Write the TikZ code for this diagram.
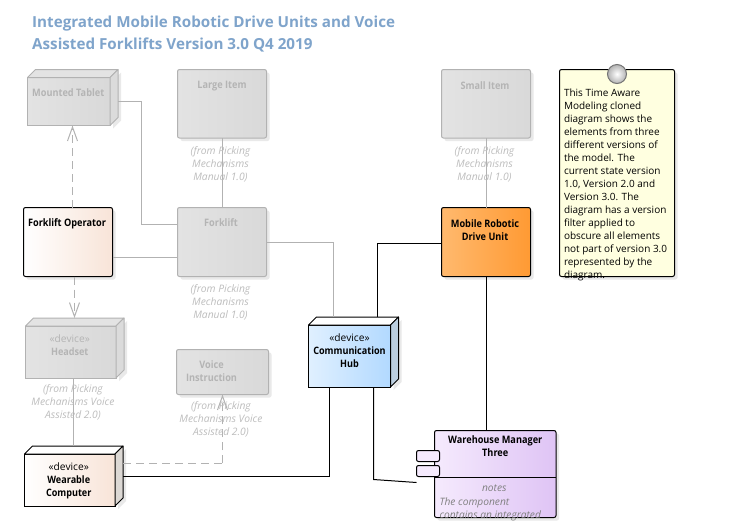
\documentclass[tikz,border=0pt]{standalone}
\usepackage{fontspec}
\setmainfont{Open Sans}
\newfontfamily\nbfont{Open Sans}[FakeStretch=0.89]
\usetikzlibrary{arrows.meta,shadows}
\definecolor{ghostline}{HTML}{B2B2B2}
\definecolor{ghosttext}{HTML}{B4B4B4}
\definecolor{fromtext}{HTML}{BDBDBD}
\definecolor{titleblue}{HTML}{7FA4CB}
\definecolor{hubA}{HTML}{E0F0FF}
\definecolor{hubB}{HTML}{B2D9FF}
\definecolor{hubS}{HTML}{BCCFE0}
\definecolor{orA}{HTML}{FFB96E}
\definecolor{orB}{HTML}{FF9A33}
\definecolor{peach}{HTML}{F8E4D8}
\definecolor{peachS}{HTML}{DCD8D4}
\definecolor{vioA}{HTML}{F5EAFD}
\definecolor{vioB}{HTML}{DFC4F5}
\definecolor{noteY}{HTML}{FFFFE0}
\newcommand{\nb}[1]{{\nbfont\bfseries #1}}
\tikzset{
  base/.style={inner sep=0pt,outer sep=0pt,line width=1pt,anchor=north west},
  shad/.style={drop shadow={shadow xshift=3pt,shadow yshift=-3pt,fill=black!14,opacity=.6}},
  lab/.style={inner sep=0pt,outer sep=0pt,align=center,anchor=north,font=\fontsize{10.2}{13}\selectfont},
  ghost/.style={base,draw=ghostline,left color=black!11,right color=black!15,shad,rounded corners=2pt},
  live/.style 2 args={base,draw=black,left color=#1,right color=#2,shad,rounded corners=2pt},
  ghostcube/.style={base,draw=ghostline,left color=black!11,right color=black!15},
  livecube/.style 2 args={base,draw=black,left color=#1,right color=#2},
  glab/.style={lab,text=ghosttext,font=\fontsize{10.3}{13}\selectfont\nbfont\bfseries},
  blab/.style={lab,text=black,font=\fontsize{10.3}{13}\selectfont\nbfont\bfseries},
  fromnote/.style={inner sep=0pt,align=center,text=fromtext,font=\fontsize{10.3}{13}\selectfont\itshape},
  gconn/.style={draw=ghostline,line width=1pt},
  bconn/.style={draw=black,line width=1pt},
  gdash/.style={draw=ghostline,line width=1pt,dash pattern=on 8pt off 5pt,-{Straight Barb[length=14pt,width=10pt]}},
  gdashv/.style={draw=ghostline,line width=1pt,dash pattern=on 8pt off 5pt},
}
% top and side faces of a node drawn as a 3D box
\newcommand{\boxfaces}[4]{%
  \coordinate (#1 top) at ([xshift=8pt,yshift=8pt]#1.north west);
  \coordinate (#1 right) at ([xshift=8pt,yshift=8pt]#1.north east);
  \coordinate (#1 low) at ([xshift=8pt,yshift=8pt]#1.south east);
  \fill[black!14,opacity=.6] ([xshift=3pt,yshift=-3pt]#1.north east) -- ([xshift=3pt,yshift=-3pt]#1 right) -- ([xshift=3pt,yshift=-3pt]#1 low) -- ([xshift=3pt,yshift=-3pt]#1.south east) -- cycle;
  \filldraw[draw=#2,fill=#3,line width=1pt,line join=round] (#1.north west) -- (#1 top) -- (#1 right) -- (#1.north east) -- cycle;
  \filldraw[draw=#2,fill=#4,line width=1pt,line join=round] (#1.north east) -- (#1 right) -- (#1 low) -- (#1.south east) -- cycle;
}
\begin{document}
\begin{tikzpicture}[x=1pt,y=-1pt]
\useasboundingbox (0,0) rectangle (742,523);
\fill[white] (0,0) rectangle (742,523);

\node[inner sep=0pt,anchor=north west,align=left,text=titleblue,font=\fontsize{15.2}{22}\selectfont\bfseries] (title) at (32,16)
  {Integrated Mobile Robotic Drive Units and Voice\\Assisted Forklifts Version 3.0 Q4 2019};

% rounded elements
\node[ghost,minimum width=89pt,minimum height=68.5pt,label={[glab,yshift=-12pt]north:Large Item}] (large) at (177.5,69.5) {};
\node[ghost,minimum width=89pt,minimum height=69pt,label={[glab,yshift=-11pt,xshift=-1pt]north:Forklift}] (fork) at (177.5,207.5) {};
\node[ghost,minimum width=89pt,minimum height=68.5pt,label={[glab,yshift=-12pt,xshift=-1pt]north:Small Item}] (small) at (441.5,69.5) {};
\node[ghost,minimum width=92pt,minimum height=45pt,label={[glab,yshift=-11pt,xshift=-11pt]north:Voice\\Instruction}] (voice) at (176.5,349.5) {};
\node[live={white}{peach},minimum width=89pt,minimum height=69pt,label={[blab,yshift=-11pt,xshift=-1pt]north:Forklift Operator}] (oper) at (23.5,207.5) {};
\node[live={orA}{orB},minimum width=89pt,minimum height=69pt,label={[blab,yshift=-12pt,xshift=-1pt]north:Mobile Robotic\\Drive Unit}] (mobile) at (441.5,207.5) {};

% boxes
\node[ghostcube,minimum width=82.5pt,minimum height=48pt,label={[glab,yshift=-11.5pt,xshift=-.5pt]north:Mounted Tablet}] (tablet) at (27.5,77.5) {};
\boxfaces{tablet}{ghostline}{black!11}{black!14}
\node[ghostcube,minimum width=90.5pt,minimum height=52pt,label={[lab,text=ghosttext,yshift=-9pt,xshift=-1pt]north:«device»\\\nb{Headset}}] (head) at (25.5,326) {};
\boxfaces{head}{ghostline}{black!11}{black!14}
\node[livecube={white}{peach},minimum width=90.5pt,minimum height=52pt,label={[lab,yshift=-9pt,xshift=-1pt]north:«device»\\\nb{Wearable}\\\nb{Computer}}] (wear) at (24.5,454) {};
\boxfaces{wear}{black}{white}{peachS}
\node[livecube={hubA}{hubB},minimum width=82pt,minimum height=62pt,label={[lab,yshift=-9pt]north:«device»\\\nb{Communication}\\\nb{Hub}}] (hub) at (308.5,325) {};
\boxfaces{hub}{black}{white}{hubS}

% connectors
\coordinate (busA) at (141.5,224);
\coordinate (busB) at (333.5,242.5);
\coordinate (busC) at (377.5,243.5);
\coordinate (busD) at (329.5,476);
\coordinate (busE) at (222.5,463);
\coordinate (busF) at (373.5,479.5);
\coordinate (wend) at (416.5,482.5);
\draw[gconn] (tablet right |- 0,101.5) -| (busA) -- (fork.west |- busA);
\draw[gconn] (large.south -| 222.5,0) -- (fork.north -| 222.5,0);
\draw[gconn] (small.south -| 486.5,0) -- (mobile.north -| 486.5,0);
\draw[gconn] (oper.east |- 0,257.5) -- (fork.west |- 0,257.5);
\draw[gconn] (fork.east |- busB) -- (busB) -- (busB |- hub top);
\draw[gconn] (head.south -| 73.5,0) -- (wear top -| 73.5,0);
\draw[gdash] (oper.north -| 72.5,0) -- (tablet.south -| 72.5,0);
\draw[gdash] (oper.south -| 74.5,0) -- (head top -| 74.5,0);
\draw[gdashv] (wear right |- busE) -- (busE);
\draw[gdash] (busE) -- (voice.south -| busE);
\draw[bconn] (hub top -| busC) -- (busC) -- (mobile.west |- busC);
\draw[bconn] (mobile.south -| 486.5,0) -- (486.5,430.5);
\draw[bconn] (wear right |- busD) -- (busD) -- (hub.south -| busD);

% component
\node[live={vioA}{vioB},minimum width=121.5pt,minimum height=87pt,
  label={[blab,yshift=-5.5pt]north:Warehouse Manager\\Three},
  label={[lab,text=black!50,anchor=north,yshift=-54.5pt,xshift=-1pt,font=\fontsize{10.2}{13}\selectfont\itshape]north:notes},
  label={[lab,text=black!50,anchor=north west,align=left,xshift=5pt,yshift=-67.5pt,font=\fontsize{10.2}{13}\selectfont\itshape]north west:The component\\contains an integrated}] (ware) at (434.5,430.5) {};
\draw[line width=1pt] (ware.west |- 0,477.5) -- (ware.east |- 0,477.5);
\node[base,draw=black,fill=vioA,rounded corners=2pt,minimum width=23pt,minimum height=11pt] (portA) at (416.5,450.5) {};
\node[base,draw=black,fill=vioA,rounded corners=2pt,minimum width=23pt,minimum height=11pt] (portB) at (416.5,465.5) {};
\draw[bconn] (hub.south -| busF) -- (busF) -- (wend);

% note
\node[base,draw=black,fill=noteY,rounded corners=2pt,minimum width=115pt,minimum height=207pt,shad,
  label={[lab,font=\fontsize{10}{13}\selectfont,anchor=north west,align=left,xshift=4.5pt,yshift=-19pt,text=black]north west:This Time Aware\\Modeling cloned\\diagram shows the\\elements from three\\different versions of\\the model. The\\current state version\\1.0, Version 2.0 and\\Version 3.0. The\\diagram has a version\\filter applied to\\obscure all elements\\not part of version 3.0\\represented by the\\diagram.}] (note) at (559.5,69.5) {};
\shade[ball color=white,inner color=white,outer color=black!30] (617,74) circle (9.5);
\draw[black!55,line width=1pt] (617,74) circle (9.5);

% source notes
\node[fromnote] (f1) at (220.5,164) {(from Picking\\Mechanisms\\ Manual 1.0)};
\node[fromnote] (f2) at (220.5,302) {(from Picking\\Mechanisms\\ Manual 1.0)};
\node[fromnote] (f3) at (484.5,164) {(from Picking\\Mechanisms\\ Manual 1.0)};
\node[fromnote] (f4) at (73,402.7) {(from Picking\\Mechanisms Voice\\Assisted 2.0)};
\node[fromnote] (f5) at (221,419.7) {(from Picking\\Mechanisms Voice\\Assisted 2.0)};
\end{tikzpicture}
\end{document}
